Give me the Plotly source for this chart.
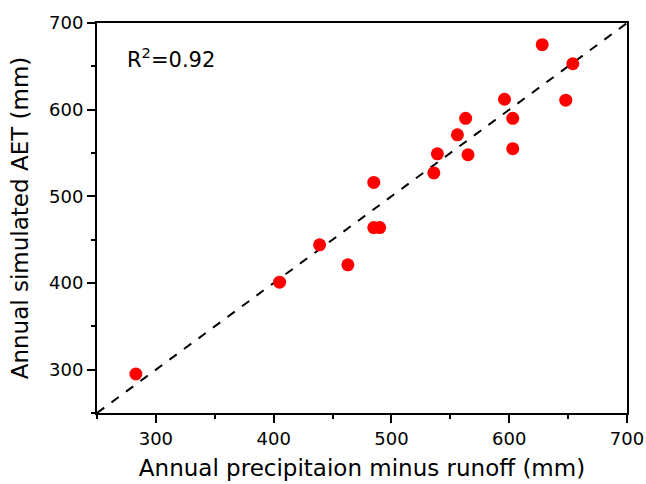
import plotly.graph_objects as go

# 年降水减径流 vs 模拟蒸散发 (mm)
p_minus_r = [628, 654, 648, 596, 563, 603, 556, 539, 565, 603, 536, 485, 485, 490, 439, 405, 283, 463]
sim_aet = [675, 653, 611, 612, 590, 590, 571, 549, 548, 555, 527, 516, 464, 464, 444, 401, 295, 421]
one_to_one = [250, 700]
r2_text = "R<sup>2</sup>=0.92"

FONT = "DejaVu Sans, Liberation Sans, sans-serif"

fig = go.Figure()

# 1:1 线
fig.add_trace(go.Scatter(
    x=one_to_one, y=one_to_one,
    mode="lines",
    line=dict(color="black", width=2, dash="dash"),
    hoverinfo="skip",
))

fig.add_trace(go.Scatter(
    x=p_minus_r, y=sim_aet,
    mode="markers",
    marker=dict(color="#ff0000", size=13, line=dict(width=0)),
))

axis_style = dict(
    range=[250, 700],
    dtick=100,
    showgrid=False,
    zeroline=False,
    showline=True,
    linecolor="black",
    linewidth=2,
    mirror=True,
    ticks="outside",
    ticklen=8,
    tickwidth=2,
    tickcolor="black",
    automargin=False,
    minor=dict(ticks="outside", ticklen=4, tickwidth=2, tickcolor="black", dtick=50, showgrid=False),
    tickfont=dict(family=FONT, size=18, color="black"),
)

fig.update_xaxes(**axis_style, ticklabeloverflow="allow",
                 title=dict(text="Annual precipitaion minus runoff (mm)",
                            font=dict(family=FONT, size=23, color="black"), standoff=12))
fig.update_yaxes(**axis_style, title=dict(text="Annual simulated AET (mm)",
                                          font=dict(family=FONT, size=23, color="black"), standoff=14))

fig.add_annotation(
    x=0.053, y=0.91, xref="paper", yref="paper",
    xanchor="left", yanchor="middle",
    text=r2_text, showarrow=False,
    font=dict(family=FONT, size=21, color="black"),
)

fig.update_layout(
    width=646, height=484,
    margin=dict(l=97, r=19, t=23, b=71),
    plot_bgcolor="white",
    paper_bgcolor="white",
    showlegend=False,
)

# 去掉 body 默认边距和滚动条，隐藏工具栏
fig.write_html(
    "out.html",
    config={"displayModeBar": False},
    post_script="document.body.style.margin='0';document.documentElement.style.overflow='hidden';",
)
